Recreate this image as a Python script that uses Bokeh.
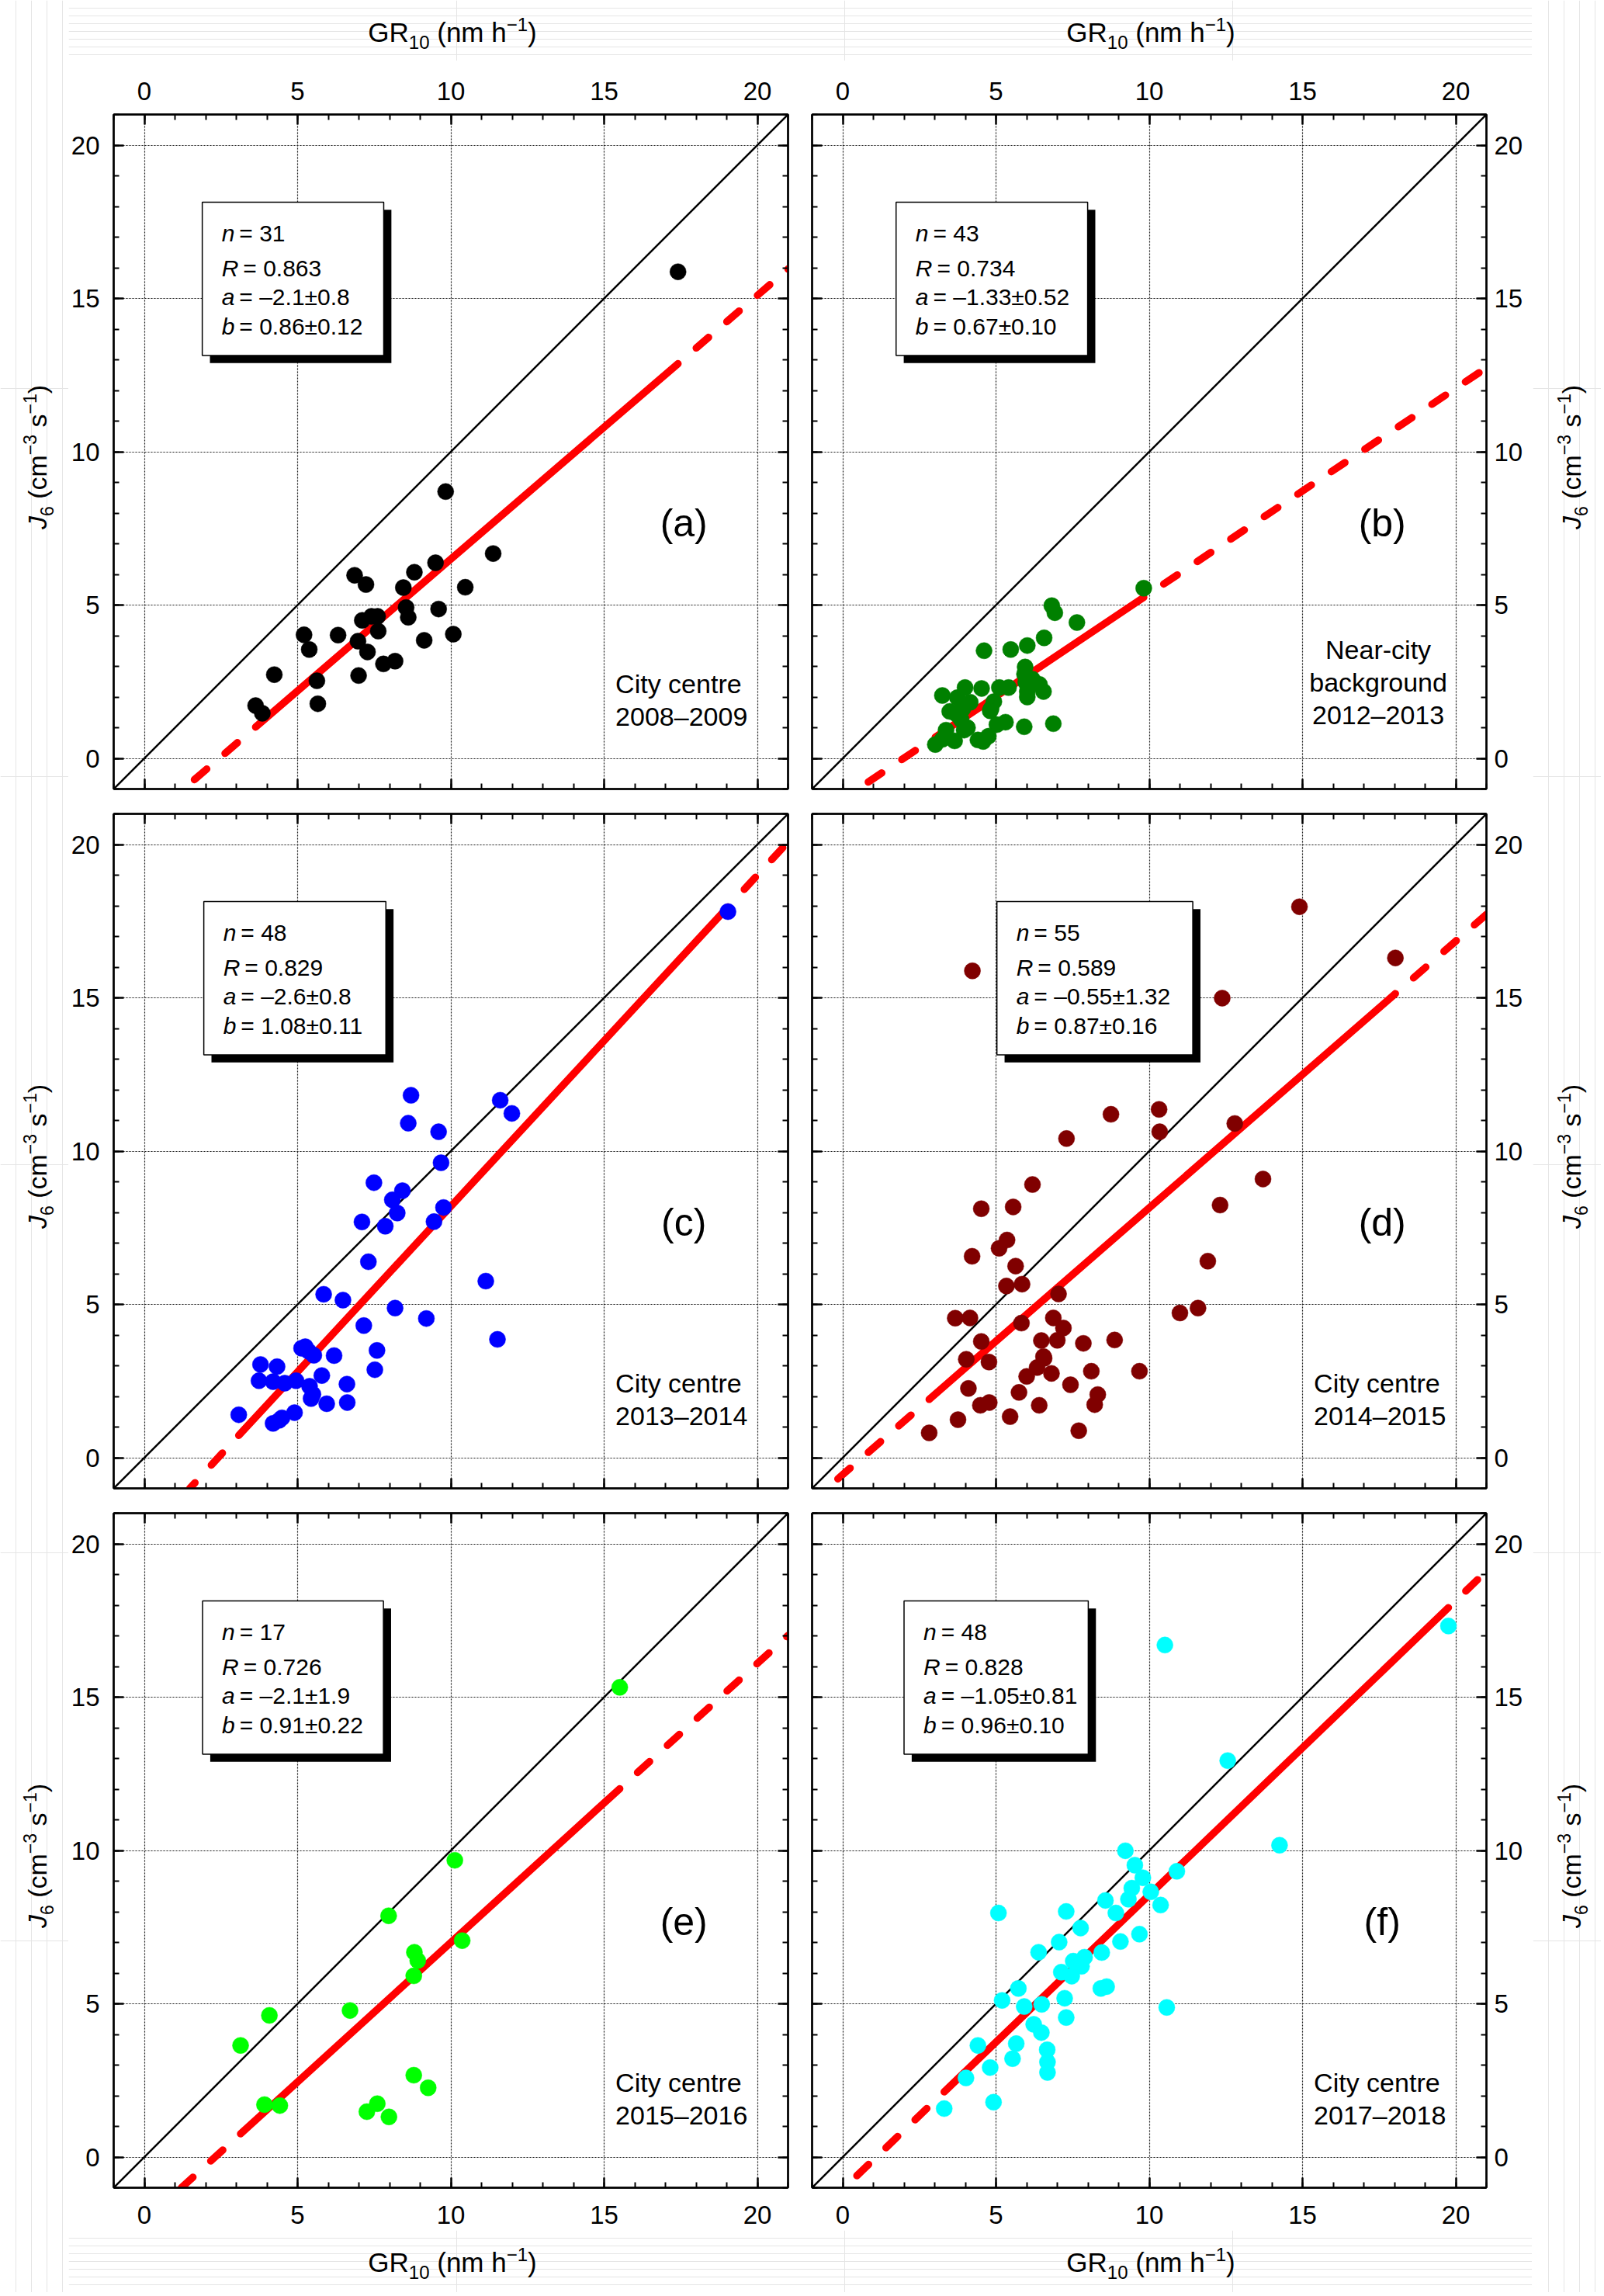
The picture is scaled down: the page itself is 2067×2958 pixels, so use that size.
import math
from bokeh.plotting import figure
from bokeh.models import Range1d, LinearAxis, FixedTicker, Label, Grid
from bokeh.layouts import column, row
from bokeh.embed import file_html
from bokeh.resources import INLINE

FONT = "Liberation Sans"

# ---------------- data ----------------
GR_A = [17.41, 9.83, 11.38, 9.50, 8.81, 6.86, 7.23, 8.45, 10.47, 8.54, 9.60, 8.61, 7.41, 7.61,
        7.11, 7.63, 6.32, 5.21, 10.08, 6.97, 9.13, 5.38, 7.28, 7.80, 8.18, 4.24, 6.99, 5.63,
        5.66, 3.63, 3.85]
J_A = [15.87, 8.70, 6.68, 6.38, 6.07, 5.97, 5.67, 5.57, 5.58, 4.92, 4.87, 4.60, 4.63, 4.63,
       4.50, 4.15, 4.02, 4.03, 4.05, 3.82, 3.85, 3.55, 3.47, 3.08, 3.17, 2.73, 2.70, 2.53,
       1.78, 1.72, 1.47]

GR_B = [9.82, 6.82, 6.92, 7.64, 6.57, 4.61, 5.48, 6.02, 5.95, 5.93, 5.97, 6.19, 6.42, 6.55,
        6.02, 6.02, 3.99, 4.53, 5.11, 5.41, 3.25, 3.74, 4.16, 4.93, 4.84, 3.49, 3.92, 4.81,
        3.86, 4.07, 5.03, 5.31, 6.87, 5.92, 3.37, 3.25, 3.02, 3.65, 4.41, 4.58, 4.75, 3.70, 3.96]
J_B = [5.55, 4.98, 4.75, 4.43, 3.93, 3.51, 3.55, 3.68, 2.98, 2.75, 2.48, 2.58, 2.41, 2.18,
       2.18, 2.00, 2.31, 2.28, 2.31, 2.31, 2.05, 1.98, 1.83, 1.85, 1.62, 1.53, 1.62, 1.55,
       1.27, 1.00, 1.10, 1.18, 1.13, 1.03, 0.92, 0.62, 0.45, 0.57, 0.60, 0.55, 0.72, 1.45, 0.92]

GR_C = [19.04, 8.70, 11.61, 11.99, 8.61, 9.60, 9.68, 7.49, 8.42, 8.09, 8.25, 9.76, 7.10, 7.86,
        9.45, 7.31, 11.14, 5.85, 6.48, 8.18, 9.20, 7.16, 11.52, 5.13, 5.36, 5.53, 6.19, 7.59,
        3.79, 4.33, 5.79, 7.52, 3.74, 4.20, 4.58, 4.95, 5.39, 6.61, 5.50, 5.44, 5.95, 6.62,
        3.08, 4.90, 4.49, 4.20, 5.25, 4.40]
J_C = [17.81, 11.82, 11.66, 11.23, 10.91, 10.63, 9.62, 8.97, 8.71, 8.41, 7.98, 8.16, 7.69, 7.55,
       7.70, 6.39, 5.76, 5.33, 5.14, 4.88, 4.54, 4.31, 3.86, 3.57, 3.47, 3.34, 3.33, 3.50,
       3.04, 2.97, 2.68, 2.87, 2.51, 2.48, 2.43, 2.51, 2.33, 2.40, 2.07, 1.93, 1.76, 1.80,
       1.40, 1.47, 1.30, 1.12, 3.62, 1.22]

GR_D = [14.90, 4.23, 18.03, 12.38, 10.32, 8.75, 10.34, 12.79, 7.30, 13.71, 6.19, 4.52, 5.56,
        12.31, 5.36, 5.10, 4.22, 5.64, 11.91, 5.34, 5.85, 7.04, 11.00, 11.59, 3.67, 4.15, 6.87,
        7.20, 5.83, 4.52, 6.48, 7.00, 7.85, 8.87, 4.03, 4.77, 6.57, 6.34, 6.81, 6.00, 8.11,
        9.68, 4.10, 7.43, 5.75, 8.32, 4.49, 4.78, 6.41, 8.22, 5.46, 3.76, 2.82, 7.70, 6.55]
J_D = [17.97, 15.88, 16.30, 14.99, 11.36, 11.20, 10.63, 10.90, 10.41, 9.09, 8.91, 8.12, 8.18,
       8.24, 7.10, 6.83, 6.57, 6.25, 6.41, 5.60, 5.66, 5.34, 4.72, 4.88, 4.55, 4.56, 4.56,
       4.23, 4.39, 3.79, 3.82, 3.83, 3.73, 3.84, 3.21, 3.12, 3.24, 2.94, 2.75, 2.65, 2.82,
       2.82, 2.26, 2.38, 2.13, 2.06, 1.71, 1.80, 1.71, 1.73, 1.34, 1.24, 0.81, 0.88, 3.30]

GR_E = [15.51, 10.13, 7.97, 10.37, 8.81, 8.92, 8.79, 6.71, 4.08, 3.14, 8.79, 9.26, 3.92, 4.42,
        7.60, 7.26, 7.98]
J_E = [15.32, 9.68, 7.87, 7.06, 6.68, 6.41, 5.91, 4.78, 4.62, 3.64, 2.67, 2.26, 1.71, 1.68,
       1.74, 1.48, 1.31]

GR_F = [19.76, 10.51, 12.56, 14.25, 9.22, 9.53, 9.79, 10.90, 9.43, 9.32, 10.05, 8.57, 10.37,
        8.91, 5.08, 7.29, 7.76, 9.68, 7.06, 9.06, 6.39, 8.45, 7.89, 7.52, 7.79, 7.13, 7.47,
        8.42, 8.61, 5.73, 5.20, 7.24, 5.92, 6.49, 10.57, 7.29, 6.23, 6.48, 4.41, 5.66, 6.67,
        5.54, 6.68, 4.81, 6.68, 4.02, 4.92, 3.31]
J_F = [17.32, 16.70, 12.93, 10.17, 9.99, 9.52, 9.11, 9.32, 8.77, 8.41, 8.65, 8.37, 8.22, 7.96,
       7.96, 8.01, 7.47, 7.27, 7.01, 7.03, 6.68, 6.67, 6.52, 6.39, 6.22, 6.03, 5.90, 5.50,
       5.56, 5.50, 5.11, 5.18, 4.91, 4.98, 4.88, 4.55, 4.33, 4.06, 3.64, 3.70, 3.50, 3.21,
       3.10, 2.92, 2.76, 2.58, 1.79, 1.58]

GR_ALL = [GR_A, GR_B, GR_C, GR_D, GR_E, GR_F]
J_ALL = [J_A, J_B, J_C, J_D, J_E, J_F]

PANEL_LETTERS = ["(a)", "(b)", "(c)", "(d)", "(e)", "(f)"]
COLORS = ["#000000", "#008000", "#0000FF", "#800000", "#00FF00", "#00FFFF"]
N_VALUES = ["31", "43", "48", "55", "17", "48"]
R_VALUES = ["0.863", "0.734", "0.829", "0.589", "0.726", "0.828"]
A_VALUES = [-2.1, -1.33, -2.6, -0.55, -2.1, -1.05]
B_VALUES = [0.86, 0.67, 1.08, 0.87, 0.91, 0.96]
A_TEXT = ["–2.1±0.8", "–1.33±0.52", "–2.6±0.8", "–0.55±1.32", "–2.1±1.9", "–1.05±0.81"]
B_TEXT = ["0.86±0.12", "0.67±0.10", "1.08±0.11", "0.87±0.16", "0.91±0.22", "0.96±0.10"]
SITES = [["City centre", "2008–2009"],
         ["Near-city", "background", "2012–2013"],
         ["City centre", "2013–2014"],
         ["City centre", "2014–2015"],
         ["City centre", "2015–2016"],
         ["City centre", "2017–2018"]]

MAJOR_TICKS = [0, 5, 10, 15, 20]
MINOR_TICKS = list(range(-1, 22))
AX_MIN, AX_MAX = -1, 21

# ---------------- layout / style ----------------
FRAME = 869
LEFT_STRIP, RIGHT_STRIP = 88, 88
TOP_STRIP, BOTTOM_STRIP = 78, 80
BORDER_L = (57, 15)      # left border of left / right column
BORDER_R = (16, 60)      # right border of left / right column
BORDER_T = (69, 16, 16)  # top border per row
BORDER_B = (16, 16, 55)  # bottom border per row
BASE_FIX = 0.38          # label baseline correction (fraction of font size)

BOX_X = [(1.89, 7.81), (1.74, 7.99), (1.94, 7.88), (5.03, 11.42), (1.90, 7.80), (2.00, 8.01)]
BOX_TOP, BOX_BOTTOM = 18.14, 13.14
SHADOW = 0.25
BOX_LINES_Y = [16.83, 15.71, 14.75, 13.79]

W_ARIAL = {' ': 278, '(': 333, ')': 333, 'G': 778, 'R': 722, 'n': 556, 'm': 833, 'h': 556,
           'c': 500, 's': 500, 'J': 500, '−': 584, '–': 556, '=': 584, '.': 278, '±': 549,
           'a': 556, 'b': 556}


def tw(s, size):
    return sum(W_ARIAL.get(ch, 556) for ch in s) * size / 1000.0


TITLE_X = [("GR", 35, "normal", 0), ("10", 24, "normal", -9), (" (nm h", 35, "normal", 0),
           ("−1", 24, "normal", 14), (")", 35, "normal", 0)]
TITLE_Y = [("J", 34, "italic", 0), ("6", 23, "normal", -9), (" (cm", 34, "normal", 0),
           ("−3", 23, "normal", 13), (" s", 34, "normal", 0), ("−1", 23, "normal", 13),
           (")", 34, "normal", 0)]


def text_label(x, y, text, size, xo=0.0, yo=0.0, style="normal", align="left", angle=0.0):
    fix = BASE_FIX * size
    if angle:
        xo -= fix
    else:
        yo += fix
    return Label(x=x, y=y, x_offset=xo, y_offset=yo, text=text, text_font=FONT,
                 text_font_size=f"{size}px", text_font_style=style, text_align=align,
                 text_baseline="alphabetic", text_color="black", angle=angle)


def add_rich(p, pieces, x, y, rotated):
    total = sum(tw(t, sz) for t, sz, st, sh in pieces)
    cum = -total / 2.0
    for t, sz, st, sh in pieces:
        body = t.lstrip(" ")
        pos = cum + tw(t[:len(t) - len(body)], sz)
        if rotated:
            p.add_layout(text_label(x, y, body, sz, xo=-sh, yo=pos, style=st,
                                    angle=math.pi / 2))
        else:
            p.add_layout(text_label(x, y, body, sz, xo=pos, yo=sh, style=st))
        cum += tw(t, sz)


def make_axis(labels, standoff):
    ax = LinearAxis(ticker=FixedTicker(ticks=MAJOR_TICKS, minor_ticks=MINOR_TICKS))
    ax.axis_line_width = 2.5
    ax.axis_line_color = "black"
    ax.major_tick_in = 13
    ax.major_tick_out = 0
    ax.minor_tick_in = 7
    ax.minor_tick_out = 0
    ax.major_tick_line_width = 2.5
    ax.minor_tick_line_width = 2
    ax.major_tick_line_color = "black"
    ax.minor_tick_line_color = "black"
    if labels:
        ax.major_label_text_font = FONT
        ax.major_label_text_font_size = "33px"
        ax.major_label_text_color = "black"
        ax.major_label_standoff = standoff
    else:
        ax.major_label_text_font_size = "0px"
        ax.major_label_text_color = None
        ax.major_label_standoff = 0
    return ax


def make_panel(i, col, rw):
    p = figure(frame_width=FRAME, frame_height=FRAME,
               x_range=Range1d(AX_MIN, AX_MAX), y_range=Range1d(AX_MIN, AX_MAX),
               x_axis_location=None, y_axis_location=None,
               toolbar_location=None, output_backend="svg",
               min_border_left=BORDER_L[col], min_border_right=BORDER_R[col],
               min_border_top=BORDER_T[rw], min_border_bottom=BORDER_B[rw],
               background_fill_color="white", border_fill_color="white",
               outline_line_color="black", outline_line_width=2)

    p.add_layout(make_axis(col == 0, 18), "left")
    p.add_layout(make_axis(col == 1, 10), "right")
    p.add_layout(make_axis(rw == 0, 19), "above")
    p.add_layout(make_axis(rw == 2, 23), "below")

    for dim in (0, 1):
        p.add_layout(Grid(dimension=dim, ticker=FixedTicker(ticks=MAJOR_TICKS),
                          grid_line_color="#222222", grid_line_dash="2 2",
                          grid_line_width=1.2))

    # 1:1 line
    p.line([AX_MIN, AX_MAX], [AX_MIN, AX_MAX], line_color="black", line_width=2.5)

    # fit line: solid over the data range, dashed outside it
    a, b = A_VALUES[i], B_VALUES[i]
    xs = GR_ALL[i]
    x_lo, x_hi = min(xs), max(xs)
    x_start = max(AX_MIN, (AX_MIN - a) / b)
    x_end = min(AX_MAX, (AX_MAX - a) / b)
    p.line([x_lo, x_hi], [a + b * x_lo, a + b * x_hi], line_color="#FF0000",
           line_width=9.5, line_cap="round")
    p.line([x_hi, x_end], [a + b * x_hi, a + b * x_end], line_color="#FF0000",
           line_width=9.5, line_cap="round", line_dash="21 31", line_dash_offset=21)
    p.line([x_lo, x_start], [a + b * x_lo, a + b * x_start], line_color="#FF0000",
           line_width=9.5, line_cap="round", line_dash="21 31", line_dash_offset=21)

    # points
    p.scatter(GR_ALL[i], J_ALL[i], marker="circle", size=21,
              fill_color=COLORS[i], line_color=COLORS[i], line_width=0.5)

    # statistics box with shadow
    bl, br = BOX_X[i]
    p.quad(left=[bl + SHADOW], right=[br + SHADOW], top=[BOX_TOP - SHADOW],
           bottom=[BOX_BOTTOM - SHADOW], fill_color="black", line_color=None)
    p.quad(left=[bl], right=[br], top=[BOX_TOP], bottom=[BOX_BOTTOM],
           fill_color="white", line_color="black", line_width=1.5)

    rows_txt = [("n", "= " + N_VALUES[i]), ("R", "= " + R_VALUES[i]),
                ("a", "= " + A_TEXT[i]), ("b", "= " + B_TEXT[i])]
    for (var, rest), yy in zip(rows_txt, BOX_LINES_Y):
        p.add_layout(text_label(bl, yy, var, 30, xo=25, style="italic"))
        p.add_layout(text_label(bl, yy, rest, 30, xo=25 + tw(var, 30) + 6))

    # panel letter
    p.add_layout(Label(x=17.6, y=7.45, y_offset=9, text=PANEL_LETTERS[i], text_font=FONT,
                       text_font_size="50px", text_align="center", text_baseline="middle",
                       text_color="black"))

    # site text
    site = SITES[i]
    if len(site) == 2:
        for t, yy in zip(site, [2.1, 1.05]):
            p.add_layout(text_label(15.37, yy, t, 34))
    else:
        for t, yy in zip(site, [3.22, 2.15, 1.08]):
            p.add_layout(text_label(17.47, yy, t, 34, align="center"))
    return p


def make_strip(w, h):
    s = figure(frame_width=w, frame_height=h, x_range=Range1d(0, w), y_range=Range1d(h, 0),
               x_axis_location=None, y_axis_location=None, toolbar_location=None,
               output_backend="svg", min_border=0, outline_line_color=None,
               background_fill_color="white", border_fill_color="white")
    return s


panels = [make_panel(k, k % 2, k // 2) for k in range(6)]
grid_block = column(row(panels[0], panels[1]), row(panels[2], panels[3]),
                    row(panels[4], panels[5]))

col_w = [BORDER_L[c] + FRAME + BORDER_R[c] for c in (0, 1)]
row_h = [BORDER_T[r] + FRAME + BORDER_B[r] for r in (0, 1, 2)]
inner_w = sum(col_w)
total_h = TOP_STRIP + sum(row_h) + BOTTOM_STRIP

frame_cx = [BORDER_L[0] + FRAME / 2.0, col_w[0] + BORDER_L[1] + FRAME / 2.0]
frame_cy = []
acc = TOP_STRIP
for r in range(3):
    frame_cy.append(acc + BORDER_T[r] + FRAME / 2.0)
    acc += row_h[r]

top_strip = make_strip(inner_w, TOP_STRIP)
bottom_strip = make_strip(inner_w, BOTTOM_STRIP)
left_strip = make_strip(LEFT_STRIP, total_h)
right_strip = make_strip(RIGHT_STRIP, total_h)

for cx in frame_cx:
    add_rich(top_strip, TITLE_X, cx + 3, 54, False)
    add_rich(bottom_strip, TITLE_X, cx + 3, 54, False)
for cy in frame_cy:
    add_rich(left_strip, TITLE_Y, 60, cy + 7, True)
    add_rich(right_strip, TITLE_Y, 62, cy + 7, True)

layout = row(left_strip, column(top_strip, grid_block, bottom_strip), right_strip)

open("out.html", "w").write(file_html(layout, INLINE))
